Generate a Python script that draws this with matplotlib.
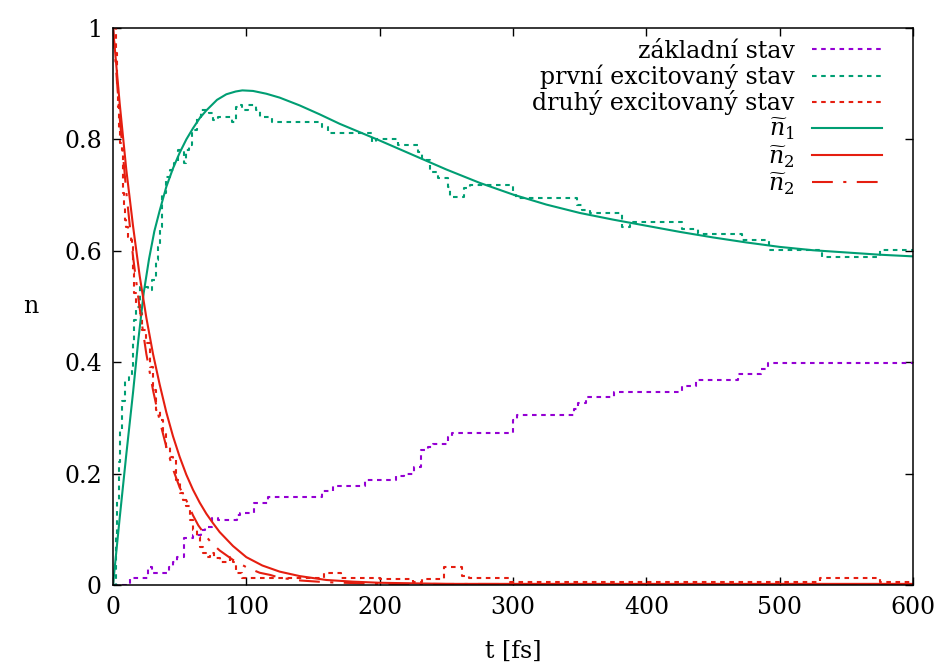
import matplotlib
matplotlib.use("Agg")
import matplotlib.pyplot as plt

# ---- data ----
# ground state (step data: start time, level)
t_ground = [0, 13, 26, 29, 42, 45, 48, 53, 60, 66, 69, 74, 79, 93, 95, 106, 116, 157, 165, 189,
            212, 218, 226, 231, 236, 240, 251, 254, 300, 303, 346, 349, 355, 376, 427, 437, 469,
            486, 491, 600]
n_ground = [0, 0.012, 0.033, 0.022, 0.033, 0.042, 0.051, 0.084, 0.09, 0.099, 0.105, 0.12, 0.117,
            0.126, 0.129, 0.148, 0.158, 0.168, 0.178, 0.188, 0.195, 0.2, 0.212, 0.242, 0.248,
            0.2525, 0.266, 0.273, 0.2955, 0.305, 0.316, 0.327, 0.337, 0.346, 0.358, 0.368, 0.3785,
            0.388, 0.399, 0.399]

# first excited state
t_first = [0, 2, 3, 4.5, 5.5, 7, 9, 12, 14, 15, 16, 17, 20, 26, 29, 32, 33.5, 35, 37, 40, 43, 46,
           49, 53, 55, 57, 59, 63, 66, 72, 75, 79, 89, 92, 95, 97, 101, 107, 110, 119, 157, 161,
           194, 197, 214, 229, 232, 238, 244, 251, 252.5, 263, 268, 300, 302, 348, 352, 358, 382,
           388, 427, 439, 472, 492, 532, 575, 600]
n_first = [0, 0.09, 0.15, 0.22, 0.28, 0.33, 0.368, 0.377, 0.392, 0.434, 0.476, 0.5, 0.535, 0.53,
           0.548, 0.583, 0.607, 0.643, 0.703, 0.733, 0.745, 0.757, 0.781, 0.757, 0.781, 0.79,
           0.817, 0.841, 0.853, 0.847, 0.835, 0.841, 0.832, 0.859, 0.861, 0.853, 0.862, 0.853,
           0.841, 0.832, 0.823, 0.811, 0.796, 0.80, 0.79, 0.778, 0.763, 0.742, 0.73, 0.715, 0.697,
           0.712, 0.718, 0.70, 0.694, 0.682, 0.673, 0.668, 0.643, 0.652, 0.64, 0.631, 0.619,
           0.601, 0.589, 0.601, 0.601]

# second excited state
t_second = [0, 2, 2.7, 3.3, 4, 4.7, 5.2, 6.5, 7.2, 7.7, 8.3, 9, 10, 11.5, 12.7, 14, 14.7, 15.2, 16,
            17.5, 20, 22, 25, 27.5, 30, 32.5, 35, 37.5, 40, 42.5, 45, 47.5, 50, 52.5, 55, 57.5, 60,
            63, 65, 67.5, 70, 73, 76, 80, 88, 90, 92.5, 97, 158, 171, 200, 225, 232, 248, 262, 267,
            298, 530, 575, 600]
n_second = [1.0, 0.955, 0.925, 0.895, 0.859, 0.817, 0.793, 0.781, 0.745, 0.703, 0.679, 0.655,
            0.643, 0.625, 0.619, 0.607, 0.583, 0.56, 0.524, 0.503, 0.488, 0.458, 0.434, 0.392,
            0.35, 0.314, 0.296, 0.272, 0.248, 0.23, 0.224, 0.188, 0.165, 0.153, 0.141, 0.117,
            0.099, 0.087, 0.069, 0.057, 0.051, 0.057, 0.048, 0.042, 0.051, 0.042, 0.021, 0.012,
            0.021, 0.012, 0.01, 0.006, 0.01, 0.033, 0.016, 0.012, 0.006, 0.012, 0.006, 0.006]

# model curves
t_n1 = [0, 5, 10, 15, 19, 23, 27, 31, 35, 40, 45, 50, 55, 60, 65, 70, 78, 85, 92, 97, 105, 115,
        125, 140, 155, 170, 185, 200, 225, 250, 275, 300, 325, 350, 375, 400, 425, 450, 475, 500,
        525, 550, 575, 600]
n_n1 = [0, 0.12, 0.235, 0.345, 0.44, 0.524, 0.585, 0.635, 0.672, 0.715, 0.748, 0.776, 0.80,
        0.82, 0.838, 0.852, 0.871, 0.881, 0.886, 0.888, 0.887, 0.882, 0.875, 0.861, 0.845, 0.828,
        0.813, 0.798, 0.772, 0.746, 0.722, 0.701, 0.683, 0.668, 0.656, 0.645, 0.634, 0.624,
        0.615, 0.607, 0.601, 0.597, 0.593, 0.59]

t_n2 = [0, 5, 10, 15, 20, 25, 30, 35, 40, 45, 50, 55, 60, 65, 70, 75, 80, 90, 100, 112, 125, 140,
        160, 180, 200, 250, 600]
n_n2 = [1.0, 0.865, 0.745, 0.645, 0.555, 0.48, 0.415, 0.36, 0.31, 0.267, 0.23, 0.198, 0.171,
        0.148, 0.128, 0.111, 0.095, 0.07, 0.05, 0.035, 0.024, 0.016, 0.009, 0.006, 0.004, 0.002,
        0.002]

t_n2b = [0, 5, 10, 15, 20, 22.7, 25, 27.7, 30, 32.7, 35, 40, 45, 50, 55, 60, 64, 70, 74, 80, 90,
         100, 110, 118, 125, 141, 160, 200, 600]
n_n2b = [1.0, 0.84, 0.705, 0.59, 0.497, 0.452, 0.415, 0.38, 0.35, 0.32, 0.295, 0.248, 0.208,
         0.175, 0.152, 0.125, 0.107, 0.087, 0.075, 0.062, 0.045, 0.032, 0.022, 0.018, 0.013,
         0.008, 0.005, 0.002, 0.001]

xticks = [0, 100, 200, 300, 400, 500, 600]
yticks = [0, 0.2, 0.4, 0.6, 0.8, 1]
ytick_labels = ["0", "0.2", "0.4", "0.6", "0.8", "1"]

# ---- style ----
plt.rcParams['font.family'] = ['DejaVu Serif']
plt.rcParams['mathtext.fontset'] = 'dejavuserif'

purple = "#9400D3"
green = "#009E73"
red = "#E51E10"

fig = plt.figure(figsize=(9.39, 6.66), dpi=100)
ax = fig.add_axes([113/939, 1-585/666, 800/939, 557/666])

dot = (0, (2.2, 2.2))
lw = 1.5
ax.plot(t_ground, n_ground, drawstyle='steps-post', color=purple, lw=lw, ls=dot, label="základní stav")
ax.plot(t_first, n_first, drawstyle='steps-post', color=green, lw=lw, ls=dot, label="první excitovaný stav")
ax.plot(t_second, n_second, drawstyle='steps-post', color=red, lw=lw, ls=dot, label="druhý excitovaný stav")
ax.plot(t_n1, n_n1, color=green, lw=1.5, label=r"$\widetilde{n}_1$")
ax.plot(t_n2, n_n2, color=red, lw=1.5, label=r"$\widetilde{n}_2$")
ax.plot(t_n2b, n_n2b, color=red, lw=1.5, ls=(0, (10, 5, 1.5, 5)), label=r"$\widetilde{n}_2$")

ax.set_xlim(0, 600)
ax.set_ylim(0, 1)
ax.set_xticks(xticks)
ax.set_yticks(yticks)
ax.set_yticklabels(ytick_labels)
ax.tick_params(direction='in', length=6, width=1, top=True, right=True, labelsize=17, pad=8)
for s in ax.spines.values():
    s.set_linewidth(1.1)

ax.set_xlabel("t [fs]", fontsize=17, labelpad=15)
ax.set_ylabel("n", fontsize=17, rotation=0, labelpad=24, va='center')

leg = ax.legend(loc='upper right', markerfirst=False, frameon=False, fontsize=17,
                handlelength=2.97, handletextpad=0.72, labelspacing=0.055,
                borderaxespad=0.0, borderpad=0.0, bbox_to_anchor=(0.961, 0.979))

fig.savefig("out.png", dpi=100)
